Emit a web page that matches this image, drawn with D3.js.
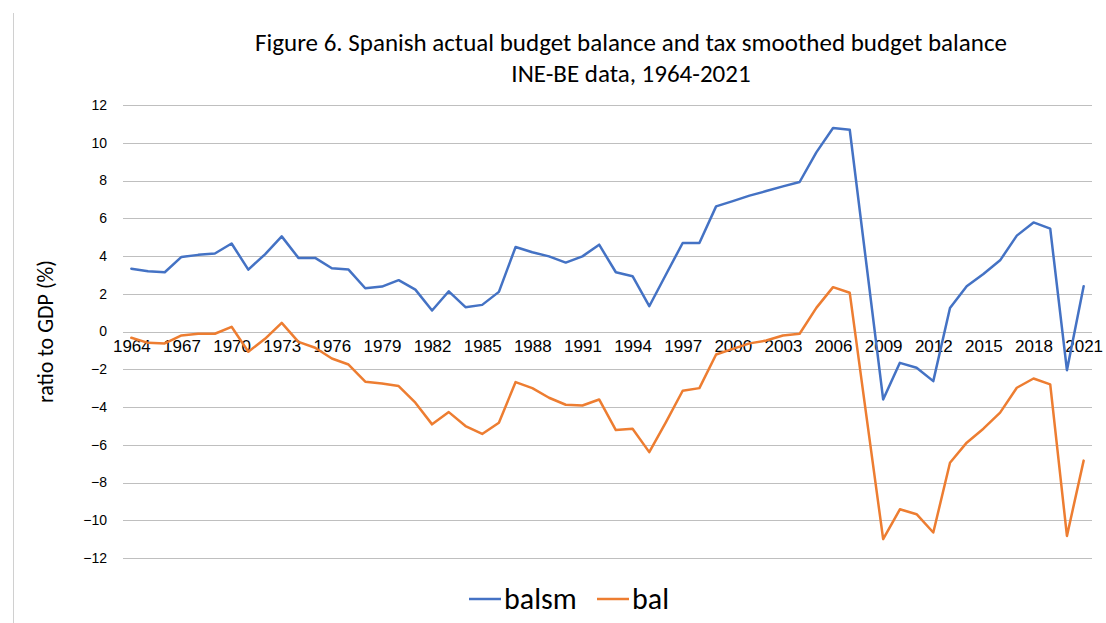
<!DOCTYPE html>
<html>
<head>
<meta charset="utf-8">
<script src="https://cdn.jsdelivr.net/npm/d3@7"></script>
<style>
  body { margin: 0; background: #fff; }
  svg { display: block; font-family: Carlito, Calibri, 'Open Sans', sans-serif; }
</style>
</head>
<body>
<div id="chart"></div>
<script>
const years = d3.range(1964, 2022)

const balsm = [
  3.33, 3.19, 3.14, 3.95, 4.06, 4.13, 4.66, 3.28, 4.09, 5.04,
  3.9, 3.9, 3.35, 3.28, 2.29, 2.38, 2.72, 2.22, 1.11, 2.13,
  1.29, 1.41, 2.1, 4.48, 4.2, 3.98, 3.65, 3.98, 4.6, 3.14,
  2.93, 1.34, 3.02, 4.69, 4.69, 6.63, 6.91, 7.2, 7.44, 7.69,
  7.92, 9.49, 10.78, 10.69, 3.55, -3.6, -1.66, -1.92, -2.63, 1.25,
  2.4, 3.05, 3.77, 5.08, 5.78, 5.45, -2.05, 2.4
]

const bal = [
  -0.33, -0.6, -0.63, -0.21, -0.12, -0.12, 0.25, -1.07, -0.39, 0.46,
  -0.55, -0.86, -1.43, -1.75, -2.66, -2.75, -2.89, -3.77, -4.92, -4.27,
  -5.01, -5.43, -4.83, -2.68, -3.0, -3.51, -3.88, -3.92, -3.6, -5.22,
  -5.15, -6.39, -4.8, -3.14, -3.0, -1.22, -0.92, -0.63, -0.48, -0.21,
  -0.12, 1.25, 2.35, 2.05, -4.5, -11.0, -9.42, -9.68, -10.65, -6.95,
  -5.89, -5.15, -4.3, -2.98, -2.49, -2.8, -10.83, -6.84
]

const yTicks = [12, 10, 8, 6, 4, 2, 0, -2, -4, -6, -8, -10, -12]
const xTickYears = years.filter(y => (y - 1964) % 3 === 0)

const seriesNames = ['balsm', 'bal']
const seriesColors = ['#4472C4', '#ED7D31']

const titleLines = [
  'Figure 6. Spanish actual budget balance and tax smoothed budget balance',
  'INE-BE data, 1964-2021'
]

const width = 1106
const height = 623
const plot = { left: 123, right: 1092, top: 105, bottom: 558 }

const svg = d3.select('#chart')
  .append('svg')
  .attr('width', width)
  .attr('height', height)

// chart frame, only the left edge is visible in the picture
svg.append('line')
  .attr('x1', 13.5).attr('x2', 13.5)
  .attr('y1', 13).attr('y2', height)
  .attr('stroke', '#d0d0d0')
  .attr('stroke-width', 1)

const x = d3.scalePoint()
  .domain(years)
  .range([plot.left, plot.right])
  .padding(0.5)

const y = d3.scaleLinear()
  .domain([-12, 12])
  .range([plot.bottom, plot.top])

// gridlines
svg.append('g')
  .selectAll('line')
  .data(yTicks)
  .enter()
  .append('line')
  .attr('x1', plot.left)
  .attr('x2', plot.right)
  .attr('y1', d => Math.round(y(d)) + 0.5)
  .attr('y2', d => Math.round(y(d)) + 0.5)
  .attr('stroke', '#bfbfbf')
  .attr('stroke-width', 1)

// y axis labels
const yAxis = d3.axisLeft(y)
  .tickValues(yTicks)
  .tickSize(0)
  .tickPadding(0)

svg.append('g')
  .attr('transform', 'translate(107,0)')
  .call(yAxis)
  .call(g => g.select('.domain').remove())
  .selectAll('text')
  .attr('font-family', null)
  .attr('font-size', 14)
  .attr('fill', '#000')

// x axis labels, placed under the zero line
const xAxis = d3.axisBottom(x)
  .tickValues(xTickYears)
  .tickSize(0)
  .tickPadding(8)

svg.append('g')
  .attr('transform', `translate(0,${y(0)})`)
  .call(xAxis)
  .call(g => g.select('.domain').remove())
  .selectAll('text')
  .attr('font-family', null)
  .attr('font-size', 17)
  .attr('fill', '#000')

// lines
const line = d3.line()
  .x((d, i) => x(years[i]))
  .y(d => y(d))

;[balsm, bal].forEach((values, i) => {
  svg.append('path')
    .datum(values)
    .attr('d', line)
    .attr('fill', 'none')
    .attr('stroke', seriesColors[i])
    .attr('stroke-width', 2.5)
    .attr('stroke-linejoin', 'round')
    .attr('stroke-linecap', 'round')
})

// title
svg.append('text')
  .attr('x', 631)
  .attr('y', 51)
  .attr('text-anchor', 'middle')
  .attr('font-size', 25)
  .text(titleLines[0])

svg.append('text')
  .attr('x', 631)
  .attr('y', 82)
  .attr('text-anchor', 'middle')
  .attr('font-size', 25)
  .text(titleLines[1])

// y axis title
svg.append('text')
  .attr('transform', `translate(53,${(plot.top + plot.bottom) / 2}) rotate(-90)`)
  .attr('text-anchor', 'middle')
  .attr('font-size', 22)
  .text('ratio to GDP (%)')

// legend
const legend = svg.append('g')
const legendItems = [
  { x: 469, lineEnd: 501, textX: 504 },
  { x: 597, lineEnd: 629, textX: 632 }
]
seriesNames.forEach((name, i) => {
  const item = legendItems[i]
  legend.append('line')
    .attr('x1', item.x).attr('x2', item.lineEnd)
    .attr('y1', 599).attr('y2', 599)
    .attr('stroke', seriesColors[i])
    .attr('stroke-width', 2.5)
  legend.append('text')
    .attr('x', item.textX)
    .attr('y', 609)
    .attr('font-size', 30)
    .text(name)
})
</script>
</body>
</html>
